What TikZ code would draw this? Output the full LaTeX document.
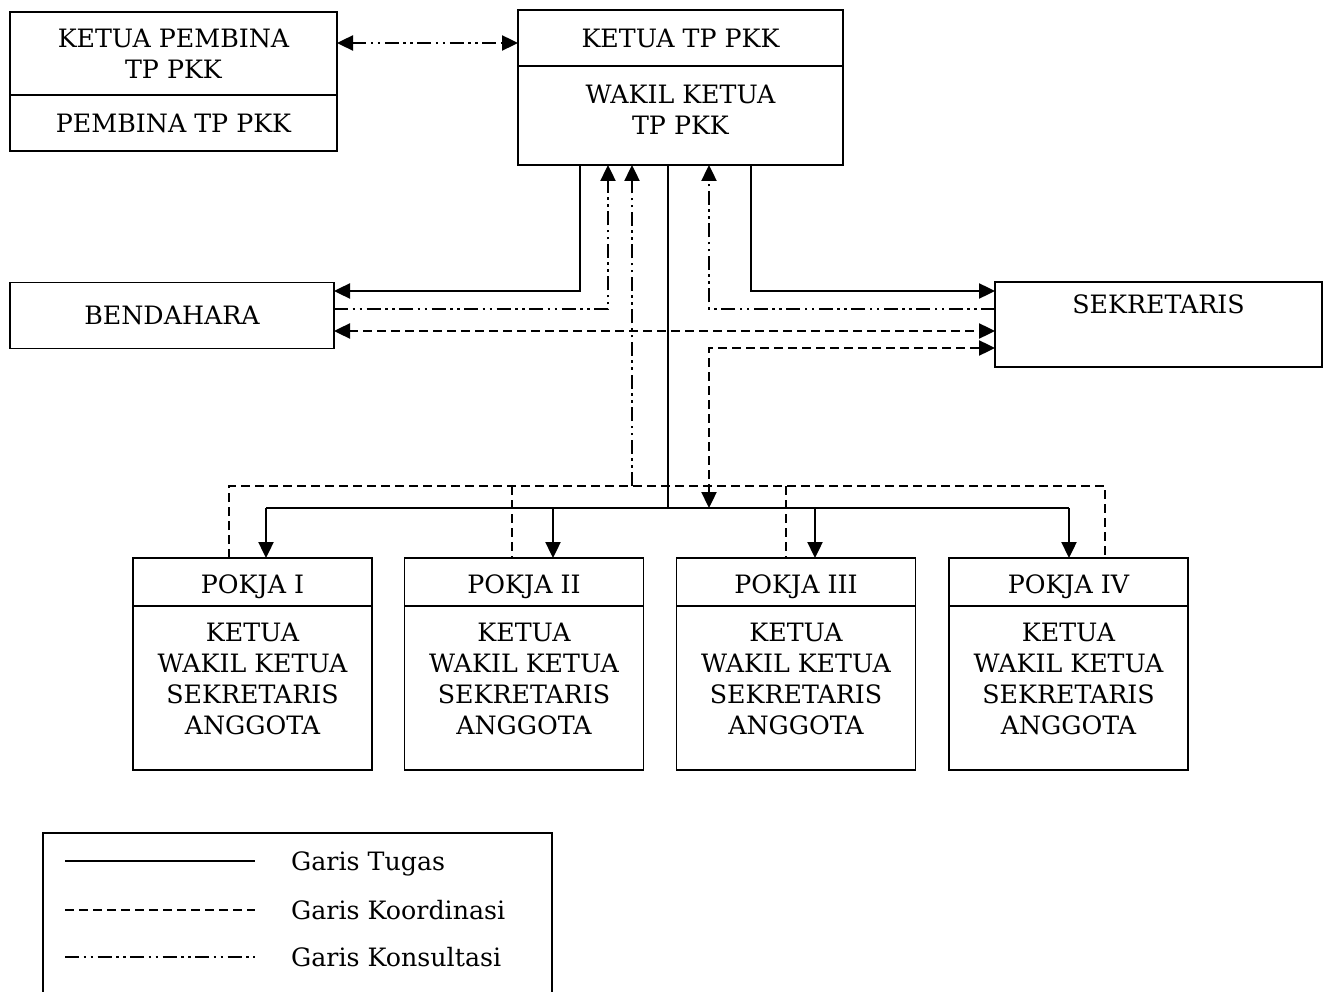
\documentclass[tikz,border=0pt]{standalone}
\usepackage{fontspec}
\setmainfont{DejaVu Serif}
\usetikzlibrary{arrows.meta,positioning}

\begin{document}
\begin{tikzpicture}[x=1pt,y=-1pt,
  font=\fontsize{25.3}{31}\selectfont,
  kotak/.style={draw,line width=1.8pt,inner sep=0pt,outer sep=0pt,align=center},
  tugas/.style={line width=2.4pt},
  koord/.style={line width=2.4pt,dash pattern=on 9pt off 5pt},
  konsul/.style={line width=2.4pt,dash pattern=on 14pt off 4.5pt on 2.5pt off 4.5pt on 2.5pt off 4.5pt},
  >={Triangle[length=16pt,width=15pt]}]
  \useasboundingbox (0,0) rectangle (1331,992);
% pembina and ketua
  \node[kotak,minimum width=327pt,minimum height=83pt] (pbtop) at (173.5,53.5) {KETUA PEMBINA\\TP PKK};
  \node[kotak,minimum width=327pt,minimum height=56pt,below=0pt of pbtop] (pb) {PEMBINA TP PKK};
  \node[kotak,minimum width=325pt,minimum height=56pt] (kt) at (680.5,38) {KETUA TP PKK};
  \node[kotak,minimum width=325pt,minimum height=99pt,text depth=12pt,below=0pt of kt] (wk) {WAKIL KETUA\\TP PKK};
  \node[kotak,minimum width=324pt,minimum height=66pt] (bd) at (172,315.5) {BENDAHARA};
  \node[kotak,minimum width=327pt,minimum height=85pt] (sk) at (1158.5,324.5) {SEKRETARIS\\\strut};
% pokja boxes
  \foreach \n/\x/\r in {1/252.5/I,2/524/II,3/796/III,4/1068.5/IV}{
    \node[kotak,minimum width=239pt,minimum height=48pt,text height=28pt] (pokja\n) at (\x,582) {POKJA \r};
    \node[kotak,minimum width=239pt,minimum height=164pt,text depth=18pt,below=0pt of pokja\n] (isi\n) {KETUA\\WAKIL KETUA\\SEKRETARIS\\ANGGOTA};
  }
  \draw[konsul,<->] (pbtop.east |- 0,43) -- (kt.west |- 0,43);
% garis tugas
  \draw[tugas,->] (580,0 |- wk.south) |- (bd.east |- 0,291);
  \draw[tugas,->] (751,0 |- wk.south) |- (sk.west |- 0,291);
  \draw[tugas] (668,0 |- wk.south) -- (668,508);
  \draw[tugas] (266,508) -- (1069,508);
  \foreach \x/\n in {266/1,553/2,815/3,1069/4}
    \draw[tugas,->] (\x,508) -- (\x,0 |- pokja\n.north);
% garis konsultasi
  \draw[konsul,->] (bd.east |- 0,309) -| (608,0 |- wk.south);
  \draw[konsul,->] (sk.west |- 0,309) -| (709,0 |- wk.south);
  \draw[konsul,->] (632,486) -- (632,0 |- wk.south);
% garis koordinasi
  \draw[koord,<->] (bd.east |- 0,331) -- (sk.west |- 0,331);
  \draw[koord,<->] (709,508) |- (sk.west |- 0,348);
  \draw[koord] (229,0 |- pokja1.north) |- (1105,486) -- (1105,0 |- pokja4.north);
  \draw[koord] (512,486) -- (512,0 |- pokja2.north);
  \draw[koord] (786,486) -- (786,0 |- pokja3.north);
% legend
  \draw[line width=2.4pt] (43,1000) |- (552,833) -- (552,1000);
  \foreach \y/\s/\t in {861/tugas/Garis Tugas,910/koord/Garis Koordinasi,957/konsul/Garis Konsultasi}{
    \draw[\s] (65,\y) -- (255,\y);
    \node[anchor=base west,inner sep=0pt] (ket\y) at (291,\y+9) {\t};
  }
\end{tikzpicture}
\end{document}
